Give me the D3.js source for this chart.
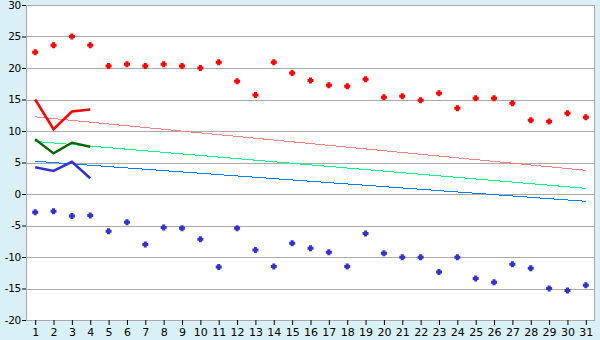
<!DOCTYPE html>
<head>
  <meta charset="utf-8">
  <script src="https://d3js.org/d3.v7.min.js"></script>
  <style>
    body { margin:0; background:#d9f0f7; }
    text { font-family: "DejaVu Sans", Verdana, sans-serif; font-size: 11px; fill: #000; }
    path { fill: none; }
  </style>
</head>

<body>
  <script>
    // days of the month
    var days = d3.range(1, 32);

    // daily maximum / minimum (points)
    var maxTemp = [22.5, 23.6, 25.0, 23.6, 20.3, 20.6, 20.3, 20.6, 20.3, 20.0,
                   20.9, 17.9, 15.7, 20.9, 19.2, 18.0, 17.25, 17.1, 18.2, 15.35,
                   15.5, 14.9, 16.0, 13.6, 15.2, 15.2, 14.4, 11.7, 11.5, 12.8, 12.2];
    var minTemp = [-2.9, -2.75, -3.5, -3.4, -5.9, -4.5, -8.0, -5.3, -5.45, -7.2,
                   -11.6, -5.45, -8.9, -11.5, -7.8, -8.6, -9.25, -11.5, -6.25, -9.4,
                   -10.05, -10.05, -12.4, -10.05, -13.4, -14.0, -11.15, -11.8, -15.0, -15.3, -14.5];

    // first days, thick lines
    var curDays = [1, 2, 3, 4];
    var curMax  = [15.0, 10.3, 13.1, 13.4];
    var curMean = [8.7, 6.45, 8.15, 7.5];
    var curMin  = [4.25, 3.65, 5.1, 2.5];

    // normals (thin lines), start and end of month
    var normDays = [1, 31];
    var normMax  = [12.25, 3.76];
    var normMean = [8.35, 0.9];
    var normMin  = [5.2, -1.16];

    var yTicks = d3.range(-20, 31, 5);

    var margin = {top: 5, right: 5, bottom: 20, left: 26};
    var width = 600 - margin.left - margin.right,
        height = 340 - margin.top - margin.bottom;

    var svg = d3.select("body").append("svg")
      .attr("width", 600)
      .attr("height", 340)
      .append("g")
      .attr("transform", "translate(" + margin.left + "," + margin.top + ")");

    var x = d3.scalePoint().domain(days).range([0, width]).padding(0.5);
    var y = d3.scaleLinear().domain([-20, 30]).range([height, 0]);

    svg.append("rect")
      .attr("width", width).attr("height", height)
      .attr("fill", "#fff");

    // grid
    svg.selectAll(".grid")
      .data(yTicks)
      .enter().append("line")
      .attr("class", "grid")
      .attr("x1", 0).attr("x2", width)
      .attr("y1", function(d) { return Math.round(y(d)) + 0.5; })
      .attr("y2", function(d) { return Math.round(y(d)) + 0.5; })
      .attr("stroke", "#aaa");

    svg.append("rect")
      .attr("x", 0.5).attr("y", 0.5)
      .attr("width", width - 1).attr("height", height)
      .attr("stroke", "#aaa").attr("fill", "none");

    // axes
    var yAxis = d3.axisLeft(y).tickValues(yTicks).tickSize(4).tickPadding(1);
    var gy = svg.append("g").call(yAxis);
    gy.select(".domain").remove();
    gy.selectAll("line").attr("stroke", "#000");
    gy.selectAll("text").style("font-size", "10.5px").style("font-family", null)
      .text(function(d) { return String(d); }).attr("letter-spacing", "-0.3");

    var xAxis = d3.axisBottom(x).tickSize(5).tickPadding(3);
    var gx = svg.append("g").attr("transform", "translate(0," + height + ")").call(xAxis);
    gx.select(".domain").attr("stroke", "#aaa").attr("d", "M0.5,0.5H" + width);
    gx.selectAll("line").attr("stroke", "#000");
    gx.selectAll("text").style("font-size", "11px").style("font-family", null);

    function drawLine(xs, ys, color, w, crisp) {
      var pts = xs.map(function(d, i) { return [d, ys[i]]; });
      svg.append("path")
        .datum(pts)
        .attr("d", d3.line()
          .x(function(d) { return x(d[0]); })
          .y(function(d) { return y(d[1]); }))
        .attr("stroke", color)
        .attr("stroke-width", w)
        .attr("shape-rendering", crisp ? "crispEdges" : null);
    }

    // normals
    drawLine(normDays, normMax, "#ff8080", 1, true);
    drawLine(normDays, normMean, "#00ff80", 1, true);
    drawLine(normDays, normMin, "#0080ff", 1, true);

    // current
    drawLine(curDays, curMax, "#ff0000", 2.6, false);
    drawLine(curDays, curMean, "#006600", 2.4, false);
    drawLine(curDays, curMin, "#3333cc", 2.6, false);

    // points: chunky plus, like the original bitmap marker
    var plus = {
      draw: function(ctx, size) {
        var a = 1.5, b = 3;
        ctx.moveTo(-a, -b); ctx.lineTo(a, -b); ctx.lineTo(a, -a); ctx.lineTo(b, -a);
        ctx.lineTo(b, a); ctx.lineTo(a, a); ctx.lineTo(a, b); ctx.lineTo(-a, b);
        ctx.lineTo(-a, a); ctx.lineTo(-b, a); ctx.lineTo(-b, -a); ctx.lineTo(-a, -a);
        ctx.closePath();
      }
    };
    var sym = d3.symbol().type(plus);

    svg.selectAll(".max")
      .data(days)
      .enter().append("path")
      .attr("class", "max")
      .attr("d", sym)
      .attr("transform", function(d, i) { return "translate(" + x(d) + "," + y(maxTemp[i]) + ")"; })
      .style("fill", "#ff0000");

    svg.selectAll(".min")
      .data(days)
      .enter().append("path")
      .attr("class", "min")
      .attr("d", sym)
      .attr("transform", function(d, i) { return "translate(" + x(d) + "," + y(minTemp[i]) + ")"; })
      .style("fill", "#3333cc");
  </script>
</body>
